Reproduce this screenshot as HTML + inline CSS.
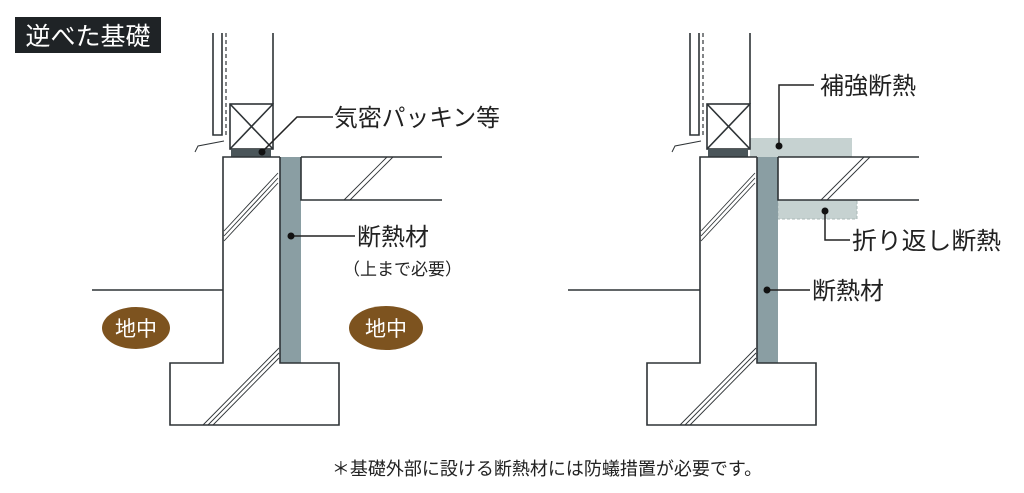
<!DOCTYPE html>
<html><head><meta charset="utf-8"><style>
html,body{margin:0;padding:0;background:#fff;width:1024px;height:493px;overflow:hidden}
svg{display:block}
text{font-family:"Liberation Sans","Noto Sans CJK JP",sans-serif;fill:#222}
</style></head><body>
<svg width="1024" height="493" viewBox="0 0 1024 493" xmlns="http://www.w3.org/2000/svg">
<rect x="15" y="17" width="146" height="36" fill="#1f2326"/>
<text x="88" y="45" font-size="25" text-anchor="middle" style="fill:#fff">逆べた基礎</text>

<g id="L" stroke="#2e3336" stroke-width="1.6" fill="none">
  <polyline points="213,33 213,135 222,135 222,33"/>
  <line x1="226" y1="33" x2="226" y2="135" stroke-dasharray="4,3" stroke-width="1.2"/>
  <line x1="273" y1="33" x2="273" y2="104"/>
  <polyline points="195,152 198,146 224,141" stroke-width="1"/>
  <rect x="230" y="104" width="43" height="45"/>
  <line x1="230" y1="104" x2="273" y2="149"/><line x1="273" y1="104" x2="230" y2="149"/>
  <rect x="231" y="149" width="40" height="8" fill="#4a5559" stroke="none"/>
  <rect x="280" y="157" width="21" height="206" fill="#8a9ea3" stroke="none"/>
  <polyline points="280,157 223,157 223,363 170,363 170,425 339,425 339,363 280,363 280,157"/>
  <line x1="92" y1="290" x2="223" y2="290"/>
  <polyline points="301,157 442,157"/><polyline points="301,157 301,200 442,200"/>
  <g stroke-width="0.9">
    <line x1="224" y1="231" x2="278" y2="173"/><line x1="224" y1="236" x2="278" y2="178"/><line x1="224" y1="241" x2="278" y2="183"/>
    <line x1="203" y1="425" x2="279" y2="348"/><line x1="208" y1="425" x2="279" y2="353"/><line x1="213" y1="425" x2="279" y2="358"/>
    <line x1="344" y1="200" x2="387" y2="157"/><line x1="350" y1="200" x2="393" y2="157"/>
  </g>
  <polyline points="262,152 297,117 333,117" stroke="#222" stroke-width="1.5"/>
  <line x1="291" y1="236" x2="355" y2="236" stroke="#222" stroke-width="1.5"/>
</g>
<circle cx="262" cy="152" r="3.5" fill="#111"/>
<circle cx="291" cy="236" r="3.5" fill="#111"/>
<text x="334" y="126" font-size="24" textLength="166" lengthAdjust="spacingAndGlyphs">気密パッキン等</text>
<text x="357" y="245" font-size="24">断熱材</text>
<text x="343" y="275" font-size="17">（上まで必要）</text>
<ellipse cx="136" cy="328" rx="34" ry="21" fill="#7d531f"/>
<ellipse cx="386" cy="328" rx="37" ry="22" fill="#7d531f"/>
<text x="136" y="336" font-size="21" text-anchor="middle" style="fill:#fff">地中</text>
<text x="386" y="336" font-size="21" text-anchor="middle" style="fill:#fff">地中</text>

<rect x="750" y="138" width="102" height="19" fill="#c6d2d1"/>
<rect x="778" y="200" width="79" height="19" fill="#c6d2d1" stroke="#aab8b7" stroke-dasharray="3,2" stroke-width="1"/>
<g stroke="#2e3336" stroke-width="1.6" fill="none">
  <polyline points="690,33 690,135 699,135 699,33"/>
  <line x1="703" y1="33" x2="703" y2="135" stroke-dasharray="4,3" stroke-width="1.2"/>
  <line x1="750" y1="33" x2="750" y2="104"/>
  <polyline points="672,152 675,146 701,141" stroke-width="1"/>
  <rect x="707" y="104" width="43" height="45"/>
  <line x1="707" y1="104" x2="750" y2="149"/><line x1="750" y1="104" x2="707" y2="149"/>
  <rect x="708" y="149" width="40" height="8" fill="#4a5559" stroke="none"/>
  <rect x="757" y="157" width="21" height="206" fill="#8a9ea3" stroke="none"/>
  <polyline points="757,157 700,157 700,363 647,363 647,425 816,425 816,363 757,363 757,157"/>
  <line x1="568" y1="290" x2="700" y2="290"/>
  <polyline points="778,157 919,157"/><polyline points="778,157 778,200 919,200"/>
  <g stroke-width="0.9">
    <line x1="701" y1="231" x2="755" y2="173"/><line x1="701" y1="236" x2="755" y2="178"/><line x1="701" y1="241" x2="755" y2="183"/>
    <line x1="680" y1="425" x2="756" y2="348"/><line x1="685" y1="425" x2="756" y2="353"/><line x1="690" y1="425" x2="756" y2="358"/>
    <line x1="821" y1="200" x2="864" y2="157"/><line x1="827" y1="200" x2="870" y2="157"/>
  </g>
  <polyline points="779,146 779,85 814,85" stroke="#222" stroke-width="1.5"/>
  <polyline points="825,211 825,240 850,240" stroke="#222" stroke-width="1.5"/>
  <line x1="767" y1="290" x2="810" y2="290" stroke="#222" stroke-width="1.5"/>
</g>
<circle cx="779" cy="146" r="3.5" fill="#111"/>
<circle cx="825" cy="211" r="3.5" fill="#111"/>
<circle cx="767" cy="290" r="3.5" fill="#111"/>
<text x="820" y="94" font-size="24">補強断熱</text>
<text x="852" y="249" font-size="24" textLength="149" lengthAdjust="spacingAndGlyphs">折り返し断熱</text>
<text x="812" y="299" font-size="24">断熱材</text>

<text x="547" y="475" font-size="18" text-anchor="middle">＊基礎外部に設ける断熱材には防蟻措置が必要です。</text>
</svg>
</body></html>
